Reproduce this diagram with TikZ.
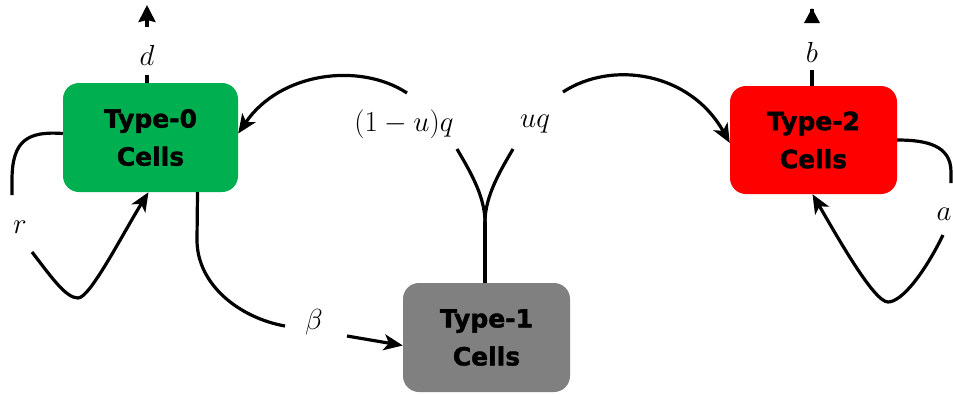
\RequirePackage{fix-cm}
\documentclass[tikz,border=0pt]{standalone}
\usepackage{fontspec}
\newfontfamily\boxfont{DejaVu Sans Bold}[FakeBold=1.6]
\usetikzlibrary{arrows.meta,calc}
\definecolor{t0green}{RGB}{0,176,80}
\definecolor{t2red}{RGB}{255,0,0}
\definecolor{t1gray}{RGB}{128,128,128}
\begin{document}
\begin{tikzpicture}[x=1pt,y=-1pt,
  cell/.style={rounded corners=16pt, text=black, align=center, inner sep=0pt,
    font=\boxfont\fontsize{25}{38}\selectfont},
  conn/.style={line width=3.2pt, black},
  tip/.style={-{Stealth[length=19pt,width=16pt,inset=5pt]}},
  lab/.style={font=\fontsize{29}{34}\selectfont, inner sep=0pt}]
\useasboundingbox (0,0) rectangle (953,394);

% cells
\node[cell, fill=t0green, minimum width=175pt, minimum height=109pt] (T0) at (150.5,137.5) {Type-0\\Cells};
\node[cell, fill=t2red, minimum width=167pt, minimum height=108pt] (T2) at (813.5,140) {Type-2\\Cells};
\node[cell, fill=t1gray, minimum width=167pt, minimum height=109pt] (T1) at (486.5,337.5) {Type-1\\Cells};

% labels
\node[lab] (d) at (147,55) {$d$};
\node[lab] (b) at (812,52) {$b$};
\node[lab] (r) at (20,227) {$r$};
\node[lab] (a) at (944,214) {$a$};
\node[lab] (beta) at (314,322) {$\beta$};
\node[lab] (luq) at (404,124) {$(1-u)q$};
\node[lab] (uq) at (535,124) {$uq$};

% free ends
\coordinate (d1) at (147,75);
\coordinate (d2) at (147,27);
\coordinate (d3) at (147,5);
\coordinate (b1) at (812,70);
\coordinate (b3) at (812,8);
\coordinate (r1) at (12,195);
\coordinate (r2) at (32,252);
\coordinate (r3) at (78,298);
\coordinate (a1) at (951,183);
\coordinate (a2) at (943,235);
\coordinate (a3) at (888,302);
\coordinate (be1) at (285,326);
\coordinate (be2) at (347,336);
\coordinate (fork) at (485,222);
\coordinate (q1a) at (457,149);
\coordinate (q1b) at (407,93);
\coordinate (q2a) at (513,149);
\coordinate (q2b) at (563,92);

% death / b
\draw[conn] ([xshift=-3.5pt]T0.north) -- (d1);
\draw[conn, -{Stealth[length=17pt,width=17pt,inset=2pt]}] (d2) -- (d3);
\draw[conn] ([xshift=-1.5pt]T2.north) -- (b1);
\draw[conn, -{Triangle[length=15pt,width=15pt]}] ([yshift=-1pt]b3) -- (b3);

% r loop
\draw[conn] ([yshift=4pt]T0.west) .. controls (28,131) and (12,140) .. (12,180) -- (r1);
\draw[conn, tip] (r2) .. controls (52,278) and (66,298) .. (r3) .. controls (90,298) and (122,235) .. ([xshift=-2pt]T0.south);

% a loop
\draw[conn] (T2.east) .. controls (928,140) and (951,146) .. (951,172) -- (a1);
\draw[conn, tip] (a2) .. controls (925,272) and (902,302) .. (a3) .. controls (874,302) and (838,238) .. ([xshift=-1pt]T2.south);

% beta
\draw[conn] ([xshift=47pt]T0.south) -- (197,240) .. controls (197,285) and (240,318) .. (be1);
\draw[conn, tip] (be2) -- ([yshift=-8pt]T1.west);

% q branches
\draw[conn] ([xshift=-1.5pt]T1.north) -- (fork);
\draw[conn] (fork) .. controls (485,195) and (468,168) .. (q1a);
\draw[conn] (fork) .. controls (485,195) and (502,168) .. (q2a);
\draw[conn, tip] (q1b) .. controls (360,62) and (280,72) .. ([yshift=4pt]T0.east);
\draw[conn, tip] (q2b) .. controls (612,60) and (690,72) .. ([yshift=-3pt]T2.west);
\end{tikzpicture}
\end{document}
